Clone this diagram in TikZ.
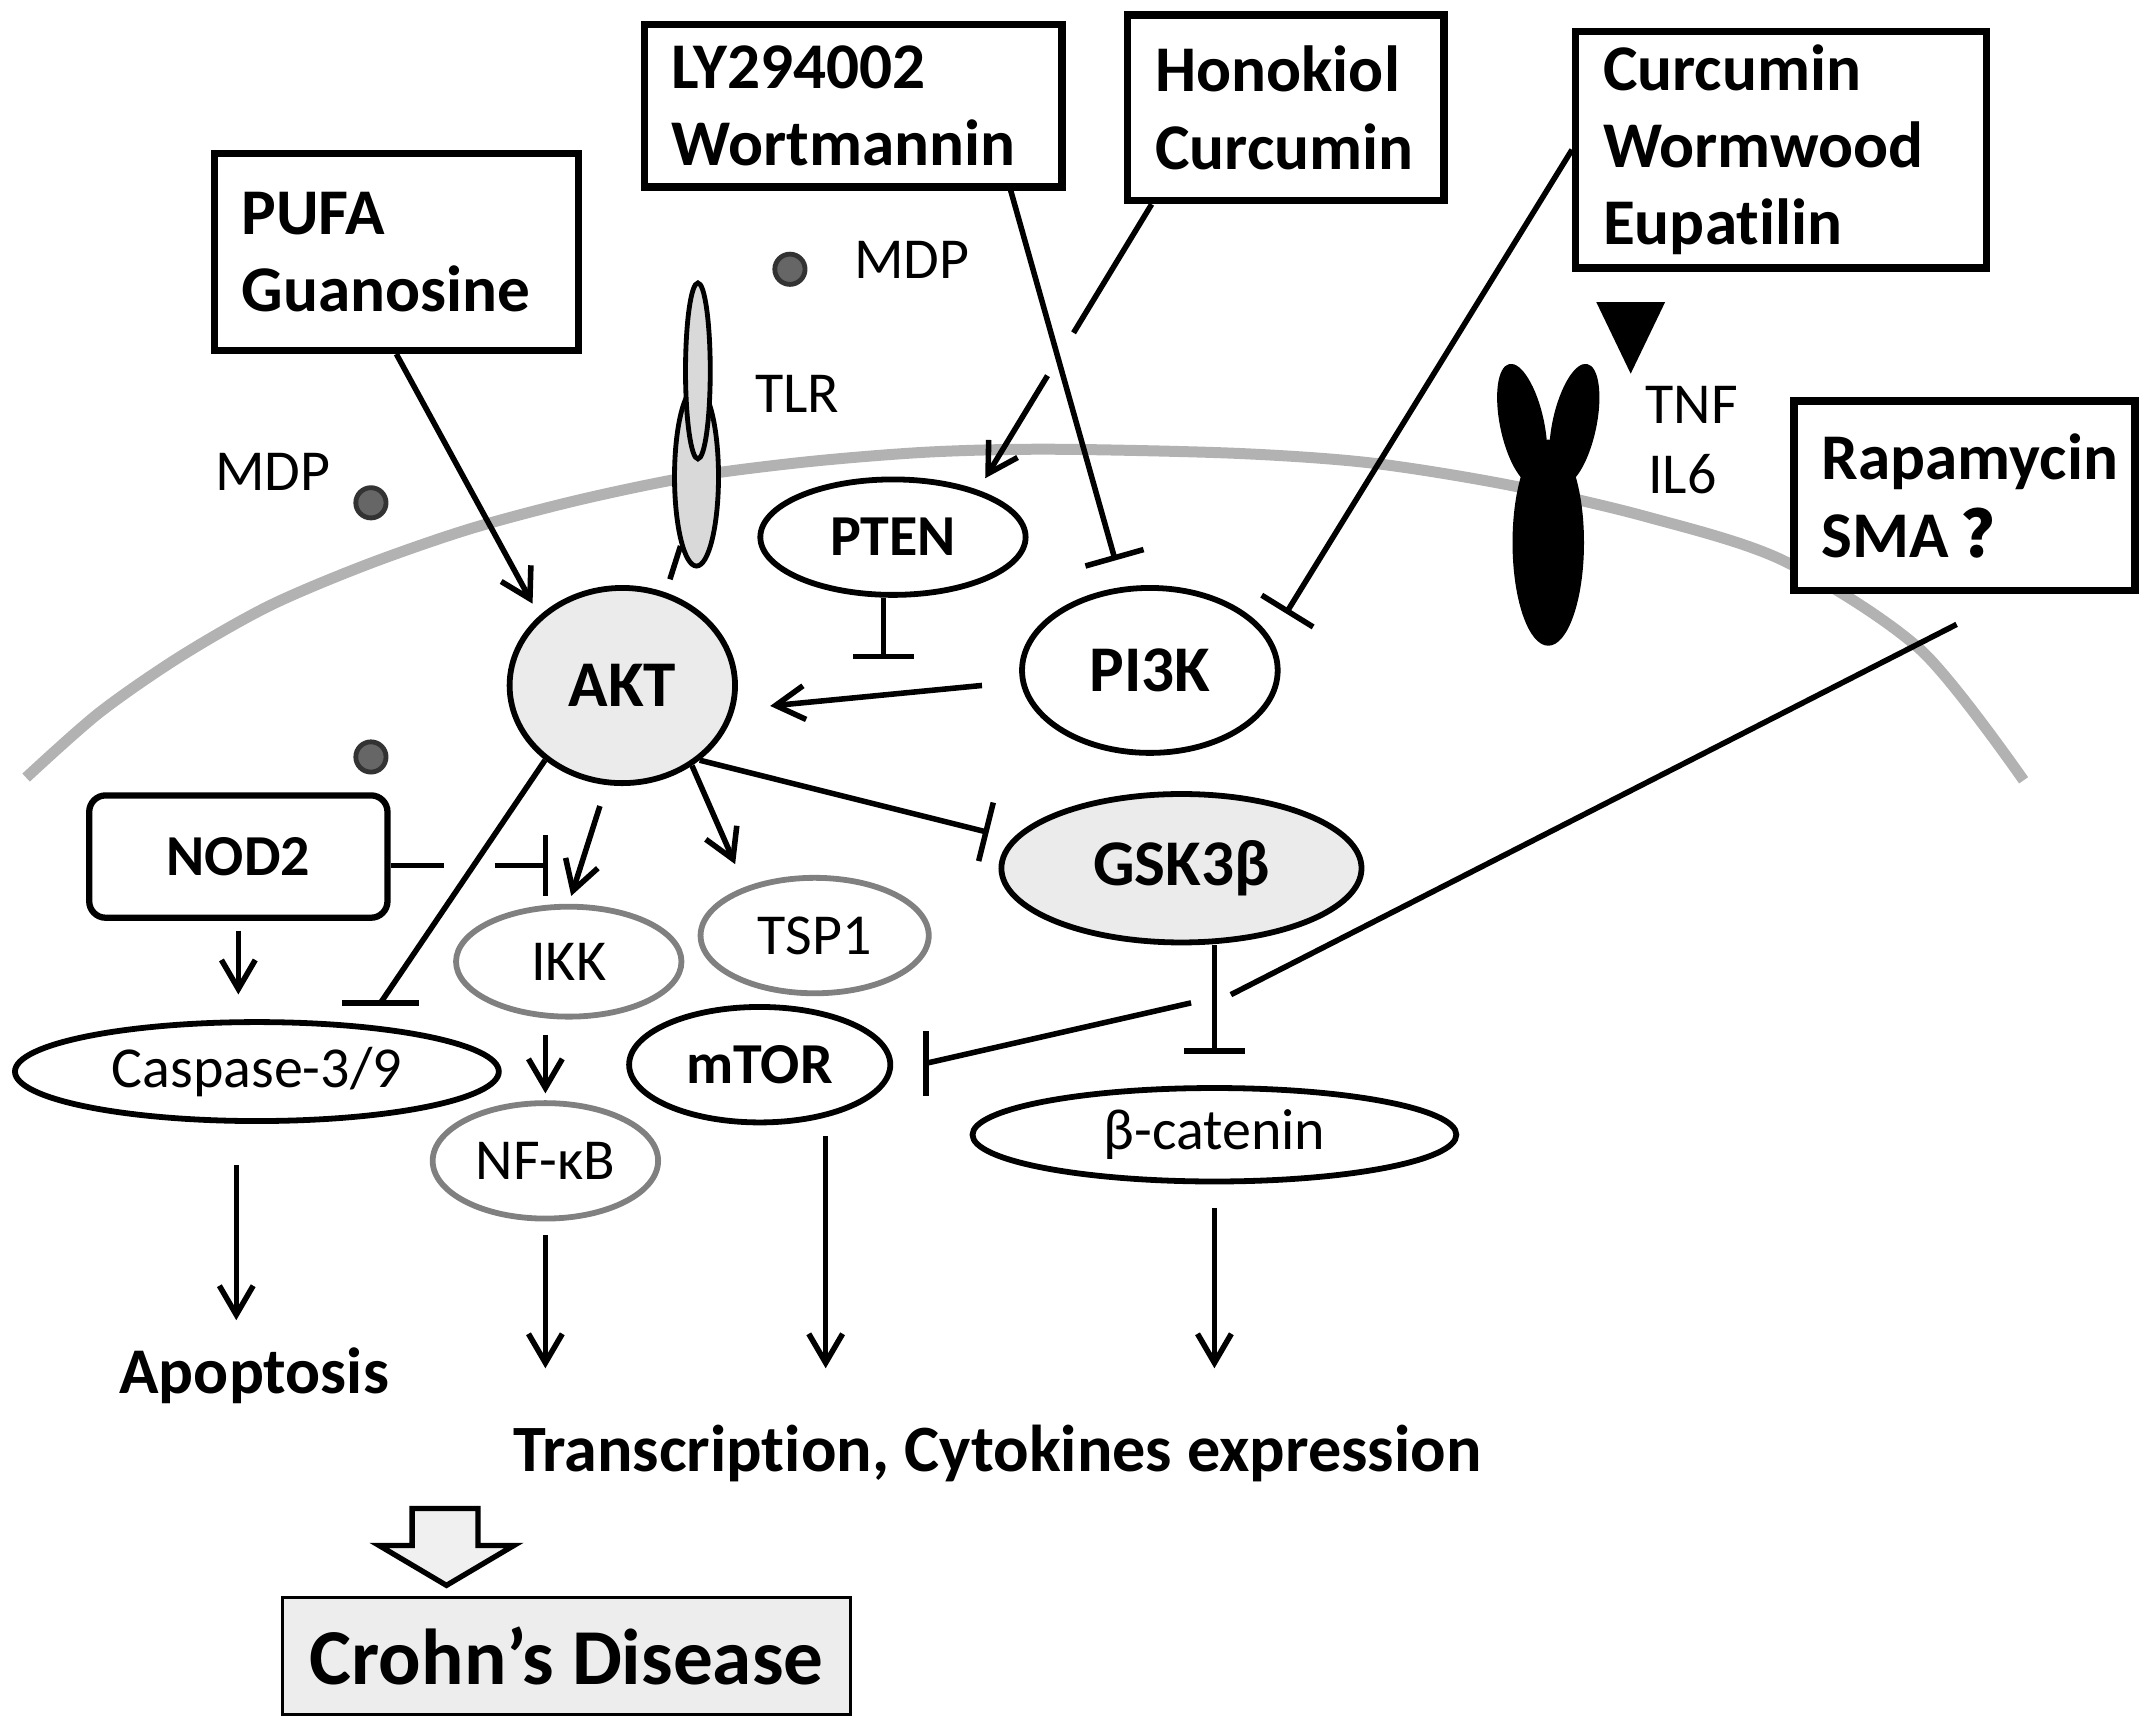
\documentclass[tikz,border=0pt]{standalone}
\usepackage{fontspec}
\setmainfont{Carlito}[Ligatures=NoCommon]
\newfontfamily\cjkfont{Noto Sans CJK SC}
\usetikzlibrary{shapes.geometric,arrows.meta}

\begin{document}
\begin{tikzpicture}[x=0.01cm, y=-0.01cm,
  drug/.style={draw, fill=white, line width=1.5pt, align=left, inner xsep=0.2cm, inner ysep=0pt, font=\fontsize{13.5}{16}\selectfont\bfseries},
  prot/.style={draw, fill=white, ellipse, line width=1.2pt, inner sep=0pt},
  faint/.style={prot, draw=black!50},
  rec/.style={draw, ellipse, fill=black!15, line width=1pt, inner sep=0pt},
  big/.style={font=\fontsize{13.5}{16}\selectfont\bfseries},
  mid/.style={font=\fontsize{12}{14}\selectfont\bfseries},
  txt/.style={inner sep=0pt, font=\fontsize{12}{14}\selectfont},
  link/.style={line width=1.15pt},
  act/.style={link, -{Straight Barb[length=6pt,width=7pt]}},
  inh/.style={link, -{Bar[width=12.5pt]}}]

\useasboundingbox (0,0) rectangle (1565,1259.3);

\draw[black!30, line width=0.08cm] plot[smooth] coordinates {(19,566) (72,519) (131,478) (196,441) (267,411) (342,385) (421,364) (503,347) (589,336) (677,329) (766,327) (900,330) (998,337) (1098,353) (1198,376) (1298,408) (1398,473) (1473,568)};

\node[rec, minimum width=0.32cm, minimum height=1.30cm] (tlrb) at (507,347) {};
\node[rec, minimum width=0.18cm, minimum height=1.28cm] (tlra) at (508,270) {};
\fill (1127,395) ellipse [x radius=0.26cm, y radius=0.75cm];
\fill[rotate around={12:(1108,309)}] (1108,309) ellipse [x radius=0.16cm, y radius=0.45cm];
\fill[rotate around={-12:(1146,309)}] (1146,309) ellipse [x radius=0.16cm, y radius=0.45cm];
\fill (1162,220) -- (1212,220) -- (1187,272) -- cycle;
\foreach \p in {(575,196),(270,366),(270,551)}
  \filldraw[fill=black!60, draw=black!80, line width=1pt] \p circle (0.11cm);

\node[txt, anchor=base west] (mdpa) at (621,203) {MDP};
\node[txt, anchor=base west] (tlr) at (549,300) {TLR};
\node[txt, anchor=base west] (mdpb) at (156,357) {MDP};
\node[txt, anchor=base west] (tnf) at (1197,308) {TNF};
\node[txt, anchor=base west] (il6) at (1199,359) {IL6};

\node[drug, minimum height=1.43cm, text width=2.25cm] (pufa) at (288.5,183.5) {PUFA\\Guanosine};
\node[drug, minimum height=1.18cm, text width=2.64cm] (ly) at (621,77) {LY294002\\Wortmannin};
\node[drug, minimum height=1.35cm, text width=1.90cm] (hono) at (936,78.5) {Honokiol\\Curcumin};
\node[drug, minimum height=1.72cm, text width=2.59cm] (curc) at (1296.5,109) {Curcumin\\Wormwood\\Eupatilin};
\node[drug, minimum height=1.38cm, text width=2.08cm] (rapa) at (1430,361) {Rapamycin\\SMA\hspace{0.2em}{\cjkfont ？}};

\node[prot, big, fill=black!8, minimum width=1.64cm, minimum height=1.42cm] (akt) at (453,499) {AKT};
\node[prot, mid, minimum width=1.93cm, minimum height=0.84cm] (pten) at (650,391) {PTEN};
\node[prot, big, minimum width=1.86cm, minimum height=1.20cm] (pi3k) at (837,488) {PI3K};
\node[prot, big, fill=black!8, minimum width=2.62cm, minimum height=1.08cm] (gsk) at (860,632) {GSK3β};
\node[prot, txt, minimum width=3.52cm, minimum height=0.68cm] (bcat) at (884,826) {β-catenin};
\node[prot, mid, minimum width=1.90cm, minimum height=0.84cm] (mtor) at (553,775) {mTOR};
\node[faint, txt, minimum width=1.66cm, minimum height=0.84cm] (tsp) at (593,681) {TSP1};
\node[faint, txt, minimum width=1.64cm, minimum height=0.80cm] (ikk) at (414,700) {IKK};
\node[faint, txt, minimum width=1.64cm, minimum height=0.84cm] (nfkb) at (397,845) {NF-κB};
\node[prot, txt, minimum width=3.52cm, minimum height=0.72cm] (casp) at (187,780) {Caspase-3/9};
\node[draw, mid, fill=white, rounded corners=0.12cm, line width=1.3pt, minimum width=2.17cm, minimum height=0.89cm] (nod) at (173.5,623.5) {NOD2};

\node[big, anchor=base, inner sep=0pt] (apop) at (185,1014) {Apoptosis};
\node[big, anchor=base, inner sep=0pt, font=\fontsize{13.7}{16}\selectfont\bfseries] (trans) at (726,1071) {Transcription, Cytokines expression};
\draw[line width=1.1pt, fill=black!6] (300,1098) -- (348,1098) -- (348,1125) -- (374,1125) -- (325,1154) -- (276,1125) -- (300,1125) -- cycle;
\node[draw, fill=black!7, line width=0.6pt, minimum width=4.13cm, minimum height=0.85cm, inner sep=0pt, font=\fontsize{16.4}{19}\selectfont\bfseries] (crohn) at (412.5,1205.5) {Crohn’s Disease};

\draw[act, shorten >=0.1cm] (pufa.south) -- (akt.140);
\draw[inh, shorten >=0.2cm] ([xshift=-0.4cm]ly.south east) -- (pi3k.108);
\path ([xshift=0.2cm]hono.south west) -- coordinate[pos=0.45] (hg1) coordinate[pos=0.6] (hg2) (pten.29);
\draw[link] ([xshift=0.2cm]hono.south west) -- (hg1);
\draw[act, shorten >=0.1cm] (hg2) -- (pten.29);
\draw[inh, shorten >=0.21cm] (curc.west) -- (pi3k.15);
\coordinate (ptenbar) at (643,480);
\draw[inh] (pten.south -| ptenbar) -- (ptenbar);
\draw[act, shorten <=0.28cm, shorten >=0.26cm] (pi3k.185) -- (akt.-12);
\draw[link, shorten <=0.1cm] (akt.65) -- (tlrb.257);
\draw[inh, shorten >=0.18cm] (akt.-44) -- (gsk.170);
\draw[act, shorten <=0.16cm, shorten >=0.06cm] (akt.-99) -- (ikk.north);
\draw[act, shorten >=0.18cm] (akt.-49) -- (tsp.145);
\coordinate (cbar) at (277,730);
\draw[link] (akt.-136) -- (cbar);
\draw[link] ([xshift=-0.28cm]cbar) -- ([xshift=0.28cm]cbar);

\coordinate (nbar) at (399,630);
\path (nod.east |- nbar) -- coordinate[pos=0.34] (ng1) coordinate[pos=0.66] (ng2) (nbar);
\draw[link] (nod.east |- nbar) -- (ng1);
\draw[inh] (ng2) -- (nbar);
\draw[act, shorten <=0.07cm, shorten >=0.18cm] (nod.south) -- (nod.south |- casp.north);
\draw[act, shorten <=0.11cm, shorten >=0.05cm] (nfkb.north |- ikk.south) -- (nfkb.north);

\coordinate (alev) at (0,961);
\coordinate (tlev) at (0,996);
\draw[act, shorten <=0.3cm] ([xshift=-0.15cm]casp.south) -- ([xshift=-0.15cm]casp.south |- alev);
\draw[act, shorten <=0.1cm] (nfkb.south) -- (nfkb.south |- tlev);
\draw[act, shorten <=0.08cm] ([xshift=0.48cm]mtor.south) -- ([xshift=0.48cm]mtor.south |- tlev);
\draw[act, shorten <=0.17cm] (bcat.south) -- (bcat.south |- tlev);
\draw[inh, shorten >=0.23cm] (bcat.north |- gsk.south) -- (bcat.north);

\coordinate (rb1) at (896,724);
\coordinate (rb2) at (867,730);
\coordinate (mbar) at (674,774);
\draw[link, shorten <=0.48cm] ([xshift=0.37cm]rapa.south) -- (rb1);
\draw[link] (rb2) -- (mbar);
\draw[link] ([yshift=0.235cm]mbar) -- ([yshift=-0.235cm]mbar);
\end{tikzpicture}
\end{document}
